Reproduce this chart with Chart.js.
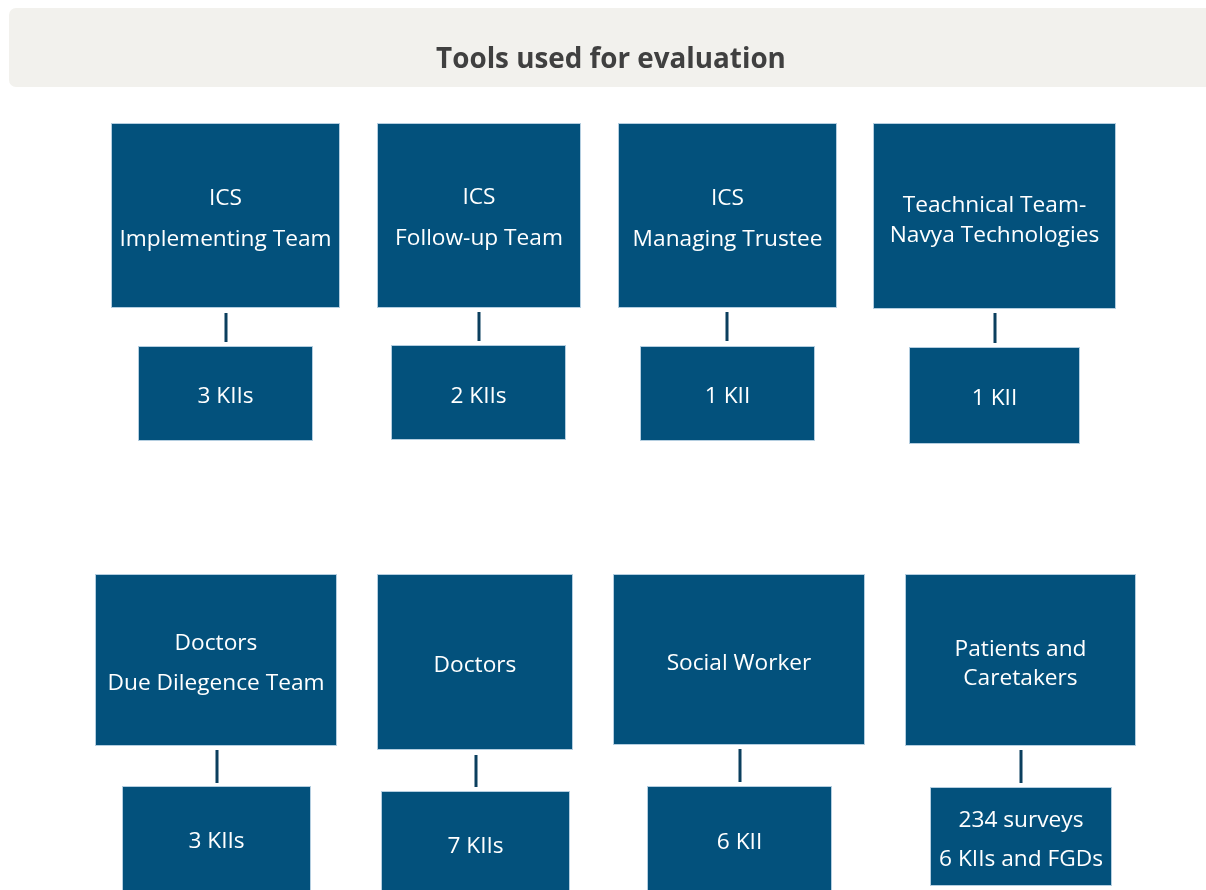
<!DOCTYPE html>
<html>
<head>
<meta charset="utf-8">
<script src="https://cdn.jsdelivr.net/npm/chart.js@4.4.1/dist/chart.umd.min.js"></script>
<style>
  html, body { margin: 0; padding: 0; background: #ffffff; }
  #wrap { width: 1206px; height: 890px; position: relative; }
</style>
</head>
<body>
<div id="wrap"><canvas id="c"></canvas></div>
<script>
// ---- content (data) ----
const title = "Tools used for evaluation";
const topGroups = [["ICS", "Implementing Team"], ["ICS", "Follow-up Team"], ["ICS", "Managing Trustee"], ["Teachnical Team-", "Navya Technologies"]];
const topTools = [["3 KIIs"], ["2 KIIs"], ["1 KII"], ["1 KII"]];
const bottomGroups = [["Doctors", "Due Dilegence Team"], ["Doctors"], ["Social Worker"], ["Patients and", "Caretakers"]];
const bottomTools = [["3 KIIs"], ["7 KIIs"], ["6 KII"], ["234 surveys", "6 KIIs and FGDs"]];

// ---- layout (canvas coordinates on hidden linear axes) ----
const groupBoxes = [
  {x0:111, x1:340, y0:123, y1:308, lineGap:41, textY:219.5},
  {x0:377, x1:581, y0:123, y1:308, lineGap:41, textY:218.5},
  {x0:618, x1:837, y0:123, y1:308, lineGap:41, textY:219.5},
  {x0:873, x1:1116, y0:123, y1:309, lineGap:30, textY:220.5},
  {x0:95, x1:337, y0:574, y1:746, lineGap:40, textY:663.5},
  {x0:377, x1:573, y0:574, y1:750, lineGap:40, textY:665.5},
  {x0:613, x1:865, y0:574, y1:745, lineGap:40, textY:663.5},
  {x0:905, x1:1136, y0:574, y1:746, lineGap:29, textY:664}
];
const toolBoxes = [
  {x0:138, x1:313, y0:346, y1:441, lineGap:39, textY:396.5},
  {x0:391, x1:566, y0:345, y1:440, lineGap:39, textY:396.5},
  {x0:640, x1:815, y0:346, y1:441, lineGap:39, textY:396.5},
  {x0:909, x1:1080, y0:347, y1:444, lineGap:39, textY:398.5},
  {x0:122, x1:311, y0:786, y1:900, lineGap:39, textY:841.5},
  {x0:381, x1:570, y0:791, y1:900, lineGap:39, textY:846.5},
  {x0:647, x1:832, y0:786, y1:900, lineGap:39, textY:842.5},
  {x0:930, x1:1112, y0:787, y1:886, lineGap:39, textY:840}
];
const connectors = [
  {x:226, y0:313, y1:342}, {x:479, y0:312, y1:341}, {x:727, y0:312, y1:341}, {x:995, y0:313, y1:343},
  {x:217, y0:750, y1:783}, {x:476, y0:755, y1:787}, {x:740, y0:749, y1:782}, {x:1021, y0:750, y1:783}
];

const BOX = '#03517c';
const BOX_EDGE = 'rgba(200,220,235,0.9)';
const LINE = '#0b3f5e';
const FONT = '"Open Sans", "Noto Sans", sans-serif';

const groupLabels = topGroups.concat(bottomGroups);
const toolLabels = topTools.concat(bottomTools);

// connector lines as line datasets
const datasets = connectors.map(c => ({
  type: 'line',
  data: [{x: c.x, y: c.y0}, {x: c.x, y: c.y1}],
  borderColor: LINE,
  borderWidth: 3,
  pointRadius: 0,
  fill: false
}));

const diagramPlugin = {
  id: 'diagram',
  beforeDatasetsDraw(chart) {
    const {ctx, scales: {x, y}} = chart;
    ctx.save();
    // header band
    const hx0 = x.getPixelForValue(9), hx1 = x.getPixelForValue(1215);
    const hy0 = y.getPixelForValue(8), hy1 = y.getPixelForValue(87);
    ctx.fillStyle = '#f2f1ed';
    ctx.beginPath();
    ctx.roundRect(hx0, hy0, hx1 - hx0, hy1 - hy0, 7);
    ctx.fill();
    ctx.fillStyle = '#404040';
    ctx.font = '700 27.8px ' + FONT;
    ctx.textAlign = 'center';
    ctx.textBaseline = 'middle';
    ctx.fillText(title, x.getPixelForValue(611), y.getPixelForValue(60));

    const drawBox = (b, lines) => {
      const px0 = x.getPixelForValue(b.x0), px1 = x.getPixelForValue(b.x1);
      const py0 = y.getPixelForValue(b.y0), py1 = y.getPixelForValue(b.y1);
      ctx.fillStyle = BOX;
      ctx.fillRect(px0, py0, px1 - px0, py1 - py0);
      ctx.strokeStyle = BOX_EDGE;
      ctx.lineWidth = 1;
      ctx.strokeRect(px0 + 0.5, py0 + 0.5, px1 - px0 - 1, py1 - py0 - 1);
      ctx.fillStyle = '#ffffff';
      ctx.font = '400 22.7px ' + FONT;
      ctx.textAlign = 'center';
      ctx.textBaseline = 'middle';
      const cx = (px0 + px1) / 2;
      const n = lines.length;
      lines.forEach((t, i) => {
        const ty = y.getPixelForValue(b.textY + (i - (n - 1) / 2) * b.lineGap);
        ctx.fillText(t, cx, ty);
      });
    };
    groupBoxes.forEach((b, i) => drawBox(b, groupLabels[i]));
    toolBoxes.forEach((b, i) => drawBox(b, toolLabels[i]));
    ctx.restore();
  }
};

new Chart(document.getElementById('c'), {
  type: 'scatter',
  data: { datasets },
  options: {
    responsive: true,
    maintainAspectRatio: false,
    animation: false,
    events: [],
    layout: { padding: 0 },
    plugins: { legend: { display: false }, tooltip: { enabled: false }, title: { display: false } },
    scales: {
      x: { type: 'linear', min: 0, max: 1206, display: false },
      y: { type: 'linear', min: 0, max: 890, reverse: true, display: false }
    }
  },
  plugins: [diagramPlugin]
});
</script>
</body>
</html>
